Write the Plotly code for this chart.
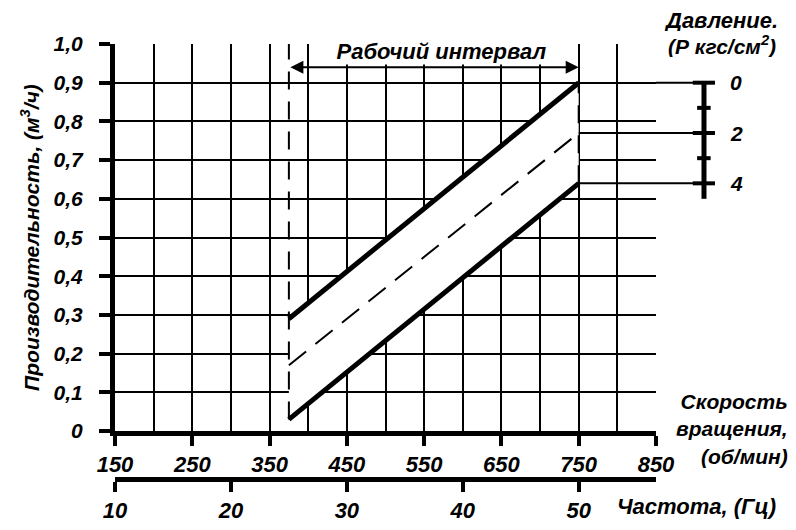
import plotly.graph_objects as go

# оси
rpm_ticks = [150, 250, 350, 450, 550, 650, 750, 850]
rpm_minor = [200, 300, 400, 500, 600, 700, 800]
hz_ticks = [10, 20, 30, 40, 50]
flow_ticks = [0, 0.1, 0.2, 0.3, 0.4, 0.5, 0.6, 0.7, 0.8, 0.9, 1.0]
flow_labels = ['0', '0,1', '0,2', '0,3', '0,4', '0,5', '0,6', '0,7', '0,8', '0,9', '1,0']

# рабочий интервал, об/мин
work_rpm = [375, 750]
# производительность при давлении 0, 2, 4 кгс/см2
flow_p0 = [0.29, 0.90]
flow_p2 = [0.17, 0.77]
flow_p4 = [0.03, 0.64]

# шкала давления (справа)
pressure_steps = [0, 1, 2, 3, 4]
pressure_flow = [0.90, 0.835, 0.77, 0.705, 0.64]
pressure_labels = ['0', '', '2', '', '4']

RPM_PER_HZ = 15  # 750 об/мин = 50 Гц

FONT = 'Liberation Sans, Arial, sans-serif'
bold_it = dict(family=FONT, color='black', style='italic', weight='bold')

fig = go.Figure()

# белая полоса рабочей зоны (закрывает сетку)
fig.add_trace(go.Scatter(
    x=work_rpm + work_rpm[::-1], y=flow_p4 + flow_p0[::-1],
    fill='toself', fillcolor='white', mode='lines', line=dict(width=0),
    hoverinfo='skip', showlegend=False))

# вертикальные штриховые границы интервала
fig.add_trace(go.Scatter(
    x=[work_rpm[0], work_rpm[0]], y=[flow_p4[0], 1.0], mode='lines',
    line=dict(color='black', width=2, dash='18px,12px'),
    hoverinfo='skip', showlegend=False))
fig.add_trace(go.Scatter(
    x=[work_rpm[1], work_rpm[1]], y=[flow_p4[1], flow_p0[1]], mode='lines',
    line=dict(color='black', width=2, dash='18px,12px'),
    hoverinfo='skip', showlegend=False))

# P = 2
fig.add_trace(go.Scatter(
    x=work_rpm, y=flow_p2, mode='lines',
    line=dict(color='black', width=2, dash='22px,12px'),
    hoverinfo='skip', showlegend=False))
# P = 0 и P = 4
for ys in (flow_p0, flow_p4):
    fig.add_trace(go.Scatter(
        x=work_rpm, y=ys, mode='lines', line=dict(color='black', width=5),
        hoverinfo='skip', showlegend=False))

# выноски к шкале давления внутри поля
for yv in (flow_p2[1], flow_p4[1]):
    fig.add_trace(go.Scatter(
        x=[work_rpm[1], rpm_ticks[-1]], y=[yv, yv], mode='lines',
        line=dict(color='black', width=2), hoverinfo='skip', showlegend=False))

# скрытый след для оси частоты
fig.add_trace(go.Scatter(
    x=hz_ticks, y=[0] * len(hz_ticks), xaxis='x2', mode='markers',
    marker=dict(opacity=0), hoverinfo='skip', showlegend=False))

# выноски за полем и шкала давления
shapes = []
for yv in (flow_p0[1], flow_p2[1], flow_p4[1]):
    shapes.append(dict(type='line', xref='paper', yref='y', x0=1.0, x1=1.109,
                       y0=yv, y1=yv, line=dict(color='black', width=2)))
shapes.append(dict(type='line', xref='paper', yref='y', x0=1.0887, x1=1.0887,
                   y0=pressure_flow[0], y1=0.6, line=dict(color='black', width=5)))
for p, yv in zip(pressure_steps, pressure_flow):
    major = p % 2 == 0
    shapes.append(dict(type='line', xref='paper', yref='y',
                       x0=1.068 if major else 1.076, x1=1.109 if major else 1.101,
                       y0=yv, y1=yv, line=dict(color='black', width=4)))

annotations = [
    dict(text='Рабочий интервал', x=572, y=0.945, xref='x', yref='y',
         xanchor='center', yanchor='bottom', width=231, height=24,
         bgcolor='white', showarrow=False,
         font=dict(size=22, **bold_it)),
    dict(text='', x=work_rpm[1], y=0.94, ax=work_rpm[0], ay=0.94,
         xref='x', yref='y', axref='x', ayref='y', showarrow=True,
         arrowhead=2, arrowside='end+start', arrowsize=1.3, arrowwidth=2,
         arrowcolor='black', standoff=0, startstandoff=0),
    dict(text='Давление.', x=1.12, y=1.082, xref='paper', yref='paper',
         xanchor='center', yanchor='top', height=21, valign='middle',
         showarrow=False, font=dict(size=22, **bold_it)),
    dict(text='(Р кгс/см<sup>2</sup>)', x=1.122, y=0.998, xref='paper', yref='paper',
         xanchor='center', yanchor='middle', height=24, valign='middle',
         showarrow=False, font=dict(size=21, **bold_it)),
    dict(text='Скорость<br>вращения,<br>(об/мин)', x=1.248, y=0.115,
         xref='paper', yref='paper', xanchor='right', yanchor='middle',
         align='right', showarrow=False,
         font=dict(size=21, **bold_it)),
    dict(text='Частота, (Гц)', x=1.2255, y=-0.064, xref='paper', yref='paper',
         xanchor='right', yanchor='middle', showarrow=False,
         font=dict(size=22, **bold_it)),
]
for lab, yv in zip(pressure_labels, pressure_flow):
    if lab:
        annotations.append(dict(text=lab, x=1.133, y=yv, xref='paper', yref='y',
                                xanchor='left', yanchor='middle', showarrow=False,
                                font=dict(size=21, **bold_it)))

# страница сдвигает график на 8 px (отступ body), поэтому фигура на 8 px меньше
fig.update_layout(
    width=788, height=522,
    margin=dict(l=107, r=140, t=36, b=51),
    paper_bgcolor='white', plot_bgcolor='white',
    showlegend=False,
    xaxis=dict(
        range=[rpm_ticks[0], rpm_ticks[-1]], anchor='y', automargin=False,
        tickmode='array', tickvals=rpm_ticks,
        ticks='outside', ticklen=10, tickwidth=4, tickcolor='black',
        showline=True, linewidth=5, linecolor='black',
        showgrid=True, gridcolor='black', gridwidth=2, zeroline=False,
        minor=dict(tickvals=rpm_minor, showgrid=True, gridcolor='black',
                   gridwidth=2, ticks=''),
        tickfont=dict(size=22, **bold_it),
    ),
    xaxis2=dict(
        range=[rpm_ticks[0] / RPM_PER_HZ, rpm_ticks[-1] / RPM_PER_HZ],
        overlaying='x', anchor='free', position=0, side='bottom', automargin=False,
        tickmode='array', tickvals=hz_ticks,
        ticks='outside', ticklen=10, tickwidth=4, tickcolor='black',
        showline=True, linewidth=5, linecolor='black',
        showgrid=False, zeroline=False,
        tickfont=dict(size=22, **bold_it),
    ),
    yaxis=dict(
        domain=[0.1103, 1], range=[0, 1], automargin=False,
        tickmode='array', tickvals=flow_ticks, ticktext=flow_labels,
        ticks='outside', ticklen=11, tickwidth=4, tickcolor='black',
        showline=True, linewidth=5, linecolor='black',
        showgrid=True, gridcolor='black', gridwidth=2, zeroline=False,
        ticklabelstandoff=12,
        tickfont=dict(size=21, **bold_it),
        title=dict(text='Производительность, (м<sup>3</sup>/ч)', standoff=10,
                   font=dict(size=21, **bold_it)),
    ),
    shapes=shapes,
    annotations=annotations,
)

fig.write_html('out.html')
